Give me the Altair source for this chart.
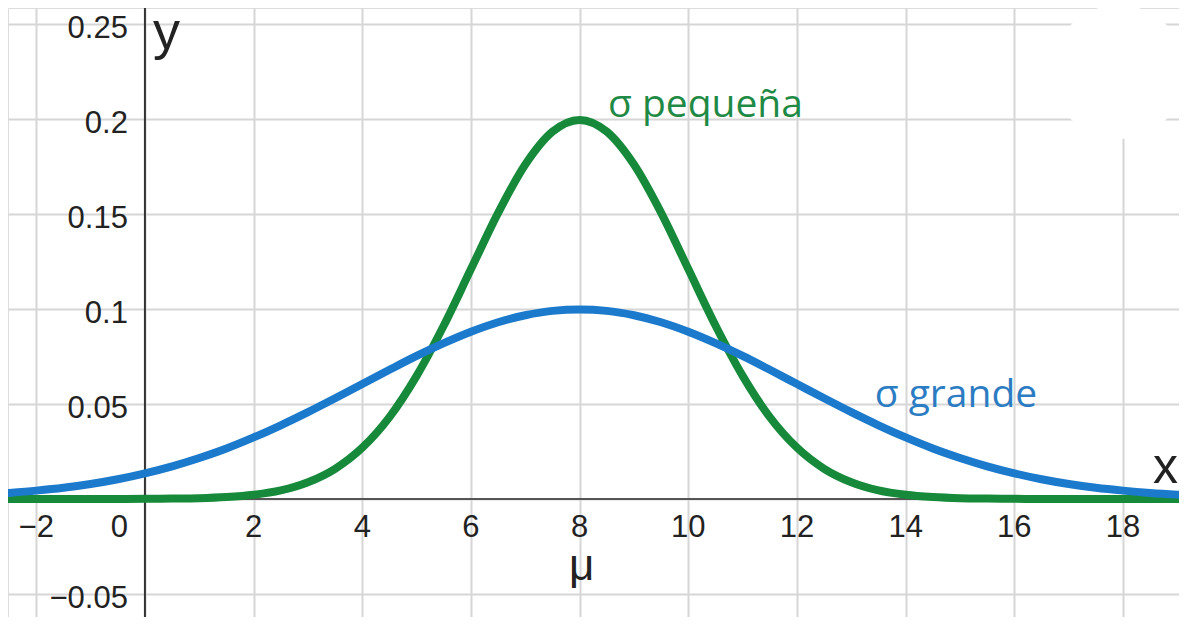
import altair as alt
import pandas as pd

# ---- data ----
x_vals = [-2.5, -2.0, -1.5, -1.0, -0.5, 0.0, 0.5, 1.0, 1.5, 2.0, 2.5, 3.0, 3.5, 4.0, 4.5,
          5.0, 5.5, 6.0, 6.5, 7.0, 7.5, 8.0, 8.5, 9.0, 9.5, 10.0, 10.5, 11.0, 11.5, 12.0,
          12.5, 13.0, 13.5, 14.0, 14.5, 15.0, 15.5, 16.0, 16.5, 17.0, 17.5, 18.0, 18.5, 19.0, 19.5]
sigma_pequena = [0, 0, 0, 0, 0, 0.0001, 0.0002, 0.0004, 0.0010, 0.0022, 0.0045, 0.0088, 0.0159,
                 0.0270, 0.0431, 0.0648, 0.0913, 0.1210, 0.1506, 0.1760, 0.1933, 0.1995, 0.1933,
                 0.1760, 0.1506, 0.1210, 0.0913, 0.0648, 0.0431, 0.0270, 0.0159, 0.0088, 0.0045,
                 0.0022, 0.0010, 0.0004, 0.0002, 0.0001, 0, 0, 0, 0, 0, 0, 0]
sigma_grande = [0.0032, 0.0044, 0.0059, 0.0079, 0.0104, 0.0135, 0.0172, 0.0216, 0.0266, 0.0324,
                0.0388, 0.0457, 0.0530, 0.0605, 0.0680, 0.0753, 0.0820, 0.0880, 0.0930, 0.0967,
                0.0990, 0.0997, 0.0990, 0.0967, 0.0930, 0.0880, 0.0820, 0.0753, 0.0680, 0.0605,
                0.0530, 0.0457, 0.0388, 0.0324, 0.0266, 0.0216, 0.0172, 0.0135, 0.0104, 0.0079,
                0.0059, 0.0044, 0.0032, 0.0023, 0.0016]

x_grid = [-2, 0, 2, 4, 6, 8, 10, 12, 14, 16, 18]
x_tick_vals = [-2, 2, 4, 6, 8, 10, 12, 14, 16, 18]
x_tick_text = ["\u22122", "2", "4", "6", "8", "10", "12", "14", "16", "18"]
y_grid = [-0.05, 0, 0.05, 0.1, 0.15, 0.2, 0.25]
y_tick_vals = [-0.05, 0.05, 0.1, 0.15, 0.2, 0.25]
y_tick_text = ["\u22120.05", "0.05", "0.1", "0.15", "0.2", "0.25"]

ann_text = ["\u03c3 peque\u00f1a", "\u03c3 grande"]
ann_x = [8.52, 13.43]
ann_y = [0.2010, 0.0485]

GREEN = "#168a3a"
BLUE = "#1b7acc"

W, H = 1171, 609
xs = alt.Scale(domain=[-2.52, 19.03], nice=False, zero=False)
ys = alt.Scale(domain=[-0.0621, 0.2584], nice=False, zero=False)

df_g = pd.DataFrame({"x": x_vals, "y": sigma_pequena})
df_b = pd.DataFrame({"x": x_vals, "y": sigma_grande})

xaxis = alt.Axis(values=x_grid, grid=True, labels=False, ticks=False, domain=False,
                 title=None, gridColor="#d6d6d6", gridWidth=2)
yaxis = alt.Axis(values=y_grid, grid=True, labels=False, ticks=False, domain=False,
                 title=None, gridColor="#d6d6d6", gridWidth=2)

grid = alt.Chart(pd.DataFrame({"x": [0], "y": [0]})).mark_point(opacity=0).encode(
    x=alt.X("x:Q", scale=xs, axis=xaxis),
    y=alt.Y("y:Q", scale=ys, axis=yaxis),
)

axis_lines_v = alt.Chart(pd.DataFrame({"x": [0]})).mark_rule(color="#333333", strokeWidth=2).encode(
    x=alt.X("x:Q", scale=xs))
axis_lines_h = alt.Chart(pd.DataFrame({"y": [0]})).mark_rule(color="#555555", strokeWidth=2).encode(
    y=alt.Y("y:Q", scale=ys))

green_line = alt.Chart(df_g).mark_line(
    strokeWidth=8, interpolate="monotone", clip=True, color=GREEN, strokeCap="round"
).encode(x=alt.X("x:Q", scale=xs), y=alt.Y("y:Q", scale=ys))
blue_line = alt.Chart(df_b).mark_line(
    strokeWidth=8, interpolate="monotone", clip=True, color=BLUE, strokeCap="round"
).encode(x=alt.X("x:Q", scale=xs), y=alt.Y("y:Q", scale=ys))

LBL_FONT = "Liberation Sans"
LBL_SIZE = 31

xlab = alt.Chart(pd.DataFrame({"x": x_tick_vals, "t": x_tick_text, "y": [0] * len(x_tick_vals)})).mark_text(
    font=LBL_FONT, fontSize=LBL_SIZE, color="#222222", align="center", baseline="alphabetic", dy=38
).encode(x=alt.X("x:Q", scale=xs), y=alt.Y("y:Q", scale=ys), text="t:N")

zero_lab = alt.Chart(pd.DataFrame({"x": [0], "y": [0], "t": ["0"]})).mark_text(
    font=LBL_FONT, fontSize=LBL_SIZE, color="#222222", align="right", baseline="alphabetic", dy=38, dx=-17
).encode(x=alt.X("x:Q", scale=xs), y=alt.Y("y:Q", scale=ys), text="t:N")

ylab = alt.Chart(pd.DataFrame({"y": y_tick_vals, "t": y_tick_text, "x": [0] * len(y_tick_vals)})).mark_text(
    font=LBL_FONT, fontSize=LBL_SIZE, color="#222222", align="right", baseline="middle", dx=-17, dy=5
).encode(x=alt.X("x:Q", scale=xs), y=alt.Y("y:Q", scale=ys), text="t:N")

y_name = alt.Chart(pd.DataFrame({"x": [0], "y": [0.237], "t": ["y"]})).mark_text(
    font=LBL_FONT, fontSize=54, color="#222222", align="left", baseline="alphabetic", dx=8
).encode(x=alt.X("x:Q", scale=xs), y=alt.Y("y:Q", scale=ys), text="t:N")

x_name = alt.Chart(pd.DataFrame({"x": [18.55], "y": [0], "t": ["x"]})).mark_text(
    font=LBL_FONT, fontSize=50, color="#222222", align="left", baseline="alphabetic", dy=-16
).encode(x=alt.X("x:Q", scale=xs), y=alt.Y("y:Q", scale=ys), text="t:N")

mu_lab = alt.Chart(pd.DataFrame({"x": [8], "y": [0], "t": ["\u03bc"]})).mark_text(
    font=LBL_FONT, fontSize=44, color="#222222", align="center", baseline="alphabetic", dy=81, dx=2
).encode(x=alt.X("x:Q", scale=xs), y=alt.Y("y:Q", scale=ys), text="t:N")

ann = alt.Chart(pd.DataFrame({"x": ann_x, "y": ann_y, "t": ann_text, "c": ["p", "g"]})).mark_text(
    font="Open Sans", fontSize=39, align="left", baseline="alphabetic"
).encode(
    x=alt.X("x:Q", scale=xs), y=alt.Y("y:Q", scale=ys), text="t:N",
    color=alt.Color("c:N", scale=alt.Scale(domain=["p", "g"], range=["#1f8a45", "#2b7cc2"]), legend=None),
)

blob = alt.Chart(pd.DataFrame({"x": [17.92], "y": [0.2247]})).mark_point(
    shape="circle", filled=True, fill="white", stroke="white", strokeWidth=0, opacity=1, size=18000
).encode(x=alt.X("x:Q", scale=xs), y=alt.Y("y:Q", scale=ys))

chart = alt.layer(
    grid, blob, axis_lines_v, axis_lines_h, green_line, blue_line,
    xlab, zero_lab, ylab, y_name, x_name, mu_lab, ann
).properties(
    width=W, height=H, padding=0, autosize=alt.AutoSizeParams(type="none")
).configure_view(stroke=None).configure(background="white")

chart.save("out.html", embed_options={"renderer": "svg", "actions": False})
